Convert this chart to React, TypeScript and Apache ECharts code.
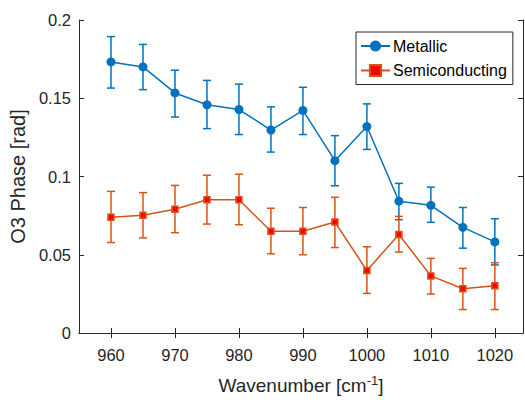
import React, { useEffect, useRef } from "react";
import * as echarts from "echarts";

const wavenumbers = [960, 965, 970, 975, 980, 985, 990, 995, 1000, 1005, 1010, 1015, 1020];
const metallic = [0.1732, 0.170, 0.1534, 0.1458, 0.1428, 0.1297, 0.1422, 0.1101, 0.1319, 0.0842, 0.0816, 0.0675, 0.0582];
const metallicLow = [0.1565, 0.1555, 0.138, 0.1306, 0.1268, 0.1156, 0.1268, 0.0941, 0.1173, 0.0724, 0.0707, 0.0542, 0.0435];
const metallicHigh = [0.1894, 0.1844, 0.1679, 0.1614, 0.159, 0.1445, 0.157, 0.1261, 0.1464, 0.0956, 0.0932, 0.0802, 0.073];
const semi = [0.074, 0.0753, 0.0791, 0.0852, 0.0852, 0.065, 0.065, 0.0709, 0.0399, 0.0629, 0.0365, 0.0283, 0.0302];
const semiLow = [0.0578, 0.0608, 0.0641, 0.0696, 0.0692, 0.0506, 0.05, 0.0546, 0.0253, 0.0517, 0.0249, 0.015, 0.015];
const semiHigh = [0.0905, 0.0897, 0.0943, 0.1008, 0.1015, 0.0797, 0.0802, 0.0867, 0.0551, 0.0745, 0.0477, 0.0413, 0.0449];
const xTicks = [960, 970, 980, 990, 1000, 1010, 1020];

const BLUE = "#0072BD";
const ORANGE = "#D95319";
const TXT = "#262626";
const FONT = "'Liberation Sans', Arial, Helvetica, sans-serif";

function errorSeries(name: string, low: number[], high: number[], color: string, z: number) {
  return {
    type: "custom",
    name: name + "_err",
    z,
    silent: true,
    encode: { x: 0, y: [1, 2] },
    data: wavenumbers.map((w, i) => [w, low[i], high[i]]),
    renderItem: (params: any, api: any) => {
      const x = api.value(0);
      const pLo = api.coord([x, api.value(1)]);
      const pHi = api.coord([x, api.value(2)]);
      const hw = 4;
      const style = { stroke: color, lineWidth: 1.5, fill: "none" };
      return {
        type: "group",
        children: [
          { type: "line", shape: { x1: pLo[0], y1: pLo[1], x2: pHi[0], y2: pHi[1] }, style },
          { type: "line", shape: { x1: pLo[0] - hw, y1: pLo[1], x2: pLo[0] + hw, y2: pLo[1] }, style },
          { type: "line", shape: { x1: pHi[0] - hw, y1: pHi[1], x2: pHi[0] + hw, y2: pHi[1] }, style },
        ],
      };
    },
  };
}

export default function App() {
  const ref = useRef<HTMLDivElement>(null);
  useEffect(() => {
    if (!ref.current) return;
    const chart = echarts.init(ref.current, undefined, { renderer: "svg" });
    const axisLine = { show: true, lineStyle: { color: TXT, width: 1 } };
    const tick = { show: true, inside: true, length: 5, lineStyle: { color: TXT } };
    chart.setOption({
      animation: false,
      textStyle: { fontFamily: FONT, color: TXT },
      grid: { left: 79, top: 20, right: 2, bottom: 64 },
      xAxis: [
        {
          type: "value",
          min: 955,
          max: 1024.4,
          axisLine,
          axisTick: { ...tick, customValues: xTicks },
          axisLabel: {
            customValues: xTicks,
            color: TXT,
            fontSize: 16.5,
            fontFamily: FONT,
            margin: 13,
            formatter: (v: number) => String(v),
          },
          splitLine: { show: false },
          name: "{a|Wavenumber [cm}{s|-1}{a|]}",
          nameLocation: "middle",
          nameGap: 41,
          nameTextStyle: {
            rich: {
              a: { fontSize: 19, fontFamily: FONT, color: TXT },
              s: { fontSize: 13, fontFamily: FONT, color: TXT, padding: [0, 0, 10, 0] },
            },
          },
        },
        {
          type: "value",
          position: "top",
          min: 955,
          max: 1024.4,
          axisLine,
          axisTick: { ...tick, customValues: xTicks },
          axisLabel: { show: false },
          splitLine: { show: false },
        },
      ],
      yAxis: [
        {
          type: "value",
          min: 0,
          max: 0.2,
          interval: 0.05,
          axisLine,
          axisTick: tick,
          axisLabel: { color: TXT, fontSize: 16.5, fontFamily: FONT, margin: 8 },
          splitLine: { show: false },
          name: "O3 Phase [rad]",
          nameLocation: "middle",
          nameGap: 46,
          nameTextStyle: { fontSize: 20, fontFamily: FONT, color: TXT },
        },
        {
          type: "value",
          position: "right",
          min: 0,
          max: 0.2,
          interval: 0.05,
          axisLine,
          axisTick: tick,
          axisLabel: { show: false },
          splitLine: { show: false },
        },
      ],
      legend: {
        orient: "vertical",
        left: 356,
        top: 32,
        padding: [6, 6, 6, 4],
        itemGap: 8.5,
        itemWidth: 29,
        itemHeight: 14,
        borderColor: TXT,
        borderWidth: 1,
        backgroundColor: "#fff",
        textStyle: { fontSize: 16, fontFamily: FONT, color: "#000", padding: [0, 0, 0, -2] },
        data: ["Metallic", "Semiconducting"],
      },
      series: [
        errorSeries("Metallic", metallicLow, metallicHigh, BLUE, 2),
        {
          type: "line",
          name: "Metallic",
          z: 3,
          data: wavenumbers.map((w, i) => [w, metallic[i]]),
          symbol: "circle",
          symbolSize: 9,
          lineStyle: { color: BLUE, width: 1.5 },
          itemStyle: { color: BLUE, borderColor: BLUE, borderWidth: 0 },
        },
        errorSeries("Semiconducting", semiLow, semiHigh, ORANGE, 4),
        {
          type: "line",
          name: "Semiconducting",
          z: 5,
          data: wavenumbers.map((w, i) => [w, semi[i]]),
          symbol: "rect",
          symbolSize: 6,
          lineStyle: { color: ORANGE, width: 1.5 },
          itemStyle: { color: "#FF0000", borderColor: ORANGE, borderWidth: 1.5 },
        },
      ],
    });
    return () => chart.dispose();
  }, []);
  return <div ref={ref} style={{ width: 525, height: 400, position: "absolute", left: 0, top: 0 }} />;
}
